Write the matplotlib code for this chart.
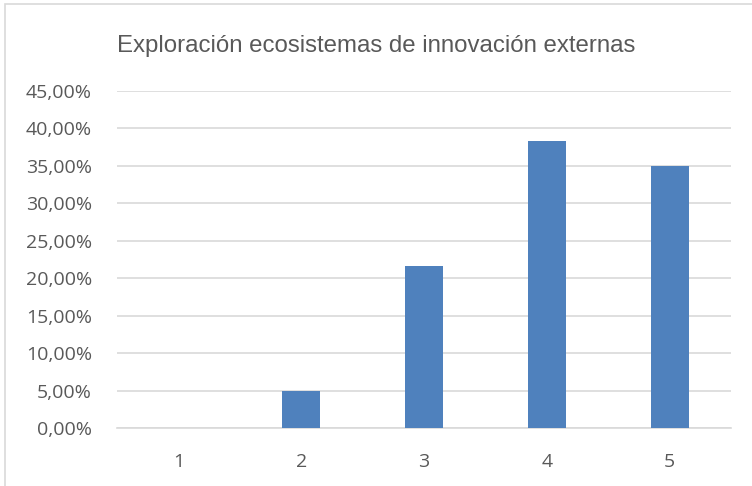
import matplotlib.pyplot as plt
from matplotlib.patches import Rectangle
from matplotlib.ticker import FuncFormatter

categories = ["1", "2", "3", "4", "5"]
shares = [0.0, 0.05, 0.2167, 0.3833, 0.35]
yticks = [0.0, 0.05, 0.10, 0.15, 0.20, 0.25, 0.30, 0.35, 0.40, 0.45]

fig = plt.figure(figsize=(7.52, 4.86), dpi=100)
ax = fig.add_axes([0.1556, 0.1193, 0.8165, 0.6934])

x = range(1, len(categories) + 1)
ax.bar(x, shares, width=0.31, color="#4f81bd", zorder=3)

ax.set_xlim(0.5, len(categories) + 0.5)
ax.set_ylim(0, 0.45)
ax.set_xticks(list(x))
ax.set_xticklabels(categories)
ax.set_yticks(yticks)
ax.yaxis.set_major_formatter(
    FuncFormatter(lambda v, _: f"{v * 100:.2f}%".replace(".", ","))
)

ax.grid(axis="y", color="#d9d9d9", linewidth=1.2, zorder=0)
for side in ["top", "right", "left"]:
    ax.spines[side].set_visible(False)
ax.spines["bottom"].set_color("#d9d9d9")
ax.spines["bottom"].set_linewidth(1.2)
ax.tick_params(length=0, labelsize=14, colors="#595959")
ax.tick_params(axis="x", pad=18)
ax.tick_params(axis="y", pad=18)
for lbl in ax.get_xticklabels() + ax.get_yticklabels():
    lbl.set_family("Open Sans")

fig.text(0.5, 0.905, "Exploración ecosistemas de innovación externas",
         ha="center", va="center", fontsize=17.3, color="#595959",
         family="Liberation Sans")

# chart border, clipped at the right and bottom edges
fig.patches.append(Rectangle((5 / 752, -0.1), 1.2, 1 - 4.5 / 486 + 0.1,
                             transform=fig.transFigure, fill=False,
                             edgecolor="#d9d9d9", linewidth=1.2))

fig.savefig("out.png", dpi=100)
